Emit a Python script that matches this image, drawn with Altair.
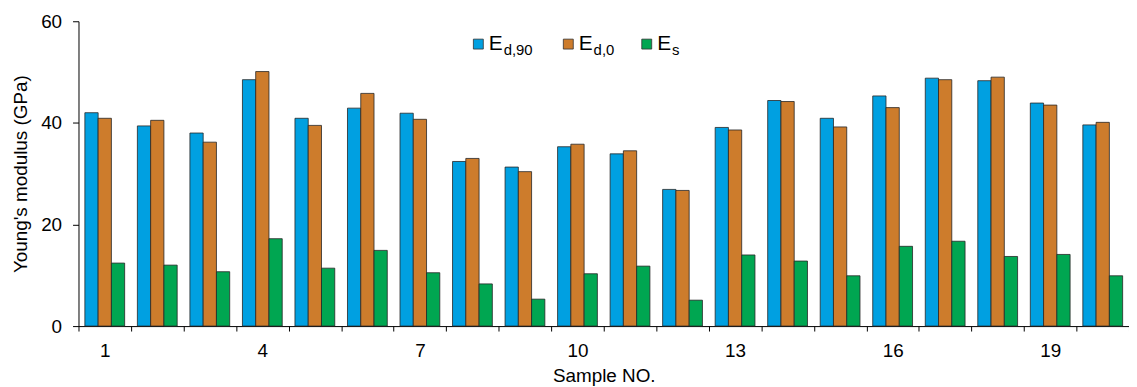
import altair as alt
import pandas as pd

FONT = "Liberation Sans"

samples = list(range(1, 21))
e_d90 = [42.0, 39.4, 38.0, 48.5, 40.9, 42.9, 41.9, 32.4, 31.3, 35.3,
         33.9, 26.9, 39.1, 44.4, 40.9, 45.3, 48.8, 48.3, 43.9, 39.6]
e_d0 = [40.9, 40.5, 36.2, 50.1, 39.5, 45.8, 40.7, 33.0, 30.4, 35.8,
        34.5, 26.7, 38.6, 44.2, 39.2, 43.0, 48.5, 49.0, 43.5, 40.1]
e_s = [12.4, 12.0, 10.7, 17.2, 11.4, 14.9, 10.5, 8.3, 5.3, 10.3,
       11.8, 5.1, 14.0, 12.8, 9.9, 15.7, 16.7, 13.7, 14.1, 9.9]

series = ["Ed90", "Ed0", "Es"]
colors = ["#00A0E1", "#CD7C2C", "#00A651"]
legend_main = ["E", "E", "E"]
legend_sub = ["d,90", "d,0", "s"]
y_ticks = [0, 20, 40, 60]

rows = []
for i, s in enumerate(samples):
    for name, vals in zip(series, [e_d90, e_d0, e_s]):
        rows.append({"sample": s, "series": name, "value": vals[i]})
df = pd.DataFrame(rows)

leg_df = pd.DataFrame({"series": series, "main": legend_main, "sub": legend_sub})

W = 1058
H = 307

color_enc = alt.Color("series:N", scale=alt.Scale(domain=series, range=colors), legend=None)

bars = alt.Chart(df).mark_bar(stroke="#262626", strokeWidth=0.8).encode(
    x=alt.X(
        "sample:O",
        scale=alt.Scale(paddingInner=0, paddingOuter=0),
        axis=alt.Axis(
            title="Sample NO.",
            tickBand="extent",
            labelExpr="(datum.value - 1) % 3 == 0 ? datum.label : ''",
            labelAngle=0,
            tickSize=5,
            labelPadding=11,
            titlePadding=6,
            labelFontSize=19,
            titleFontSize=19,
        ),
    ),
    xOffset=alt.XOffset("series:N", sort=series,
                        scale=alt.Scale(domain=series, paddingOuter=0.48, paddingInner=0)),
    y=alt.Y(
        "value:Q",
        scale=alt.Scale(domain=[0, 60]),
        axis=alt.Axis(
            values=y_ticks,
            grid=False,
            tickSize=6,
            labelPadding=11,
            title="Young's modulus (GPa)",
            titlePadding=10,
            labelFontSize=19,
            titleFontSize=19,
        ),
    ),
    color=color_enc,
)

# manual legend (subscripted labels)
leg_centers = [402.7, 493.3, 572.3]
layers = [bars]
for s, cx in zip(series, leg_centers):
    base = alt.Chart(leg_df).transform_filter(alt.datum.series == s)
    sq = base.mark_square(size=100, stroke="#333333", strokeWidth=0.8, opacity=1, filled=True).encode(
        x=alt.value(cx), y=alt.value(23), color=color_enc
    )
    main = base.mark_text(align="left", baseline="alphabetic", fontSize=21, font=FONT, color="black").encode(
        x=alt.value(cx + 10.5), y=alt.value(29.3), text="main:N"
    )
    sub = base.mark_text(align="left", baseline="alphabetic", fontSize=15, font=FONT, color="black").encode(
        x=alt.value(cx + 25.5), y=alt.value(33.5), text="sub:N"
    )
    layers += [sq, main, sub]

chart = alt.layer(*layers).properties(
    width=W,
    height=H,
    autosize=alt.AutoSizeParams(type="none"),
    padding={"left": 71, "top": 12, "right": 0, "bottom": 60},
).configure_view(stroke=None).configure_axis(
    domainColor="black",
    tickColor="black",
    labelColor="black",
    titleColor="black",
    labelFont=FONT,
    titleFont=FONT,
    titleFontWeight="normal",
    domainWidth=1,
    tickWidth=1,
)

chart.save("out.html", embed_options={"renderer": "svg", "actions": False})
